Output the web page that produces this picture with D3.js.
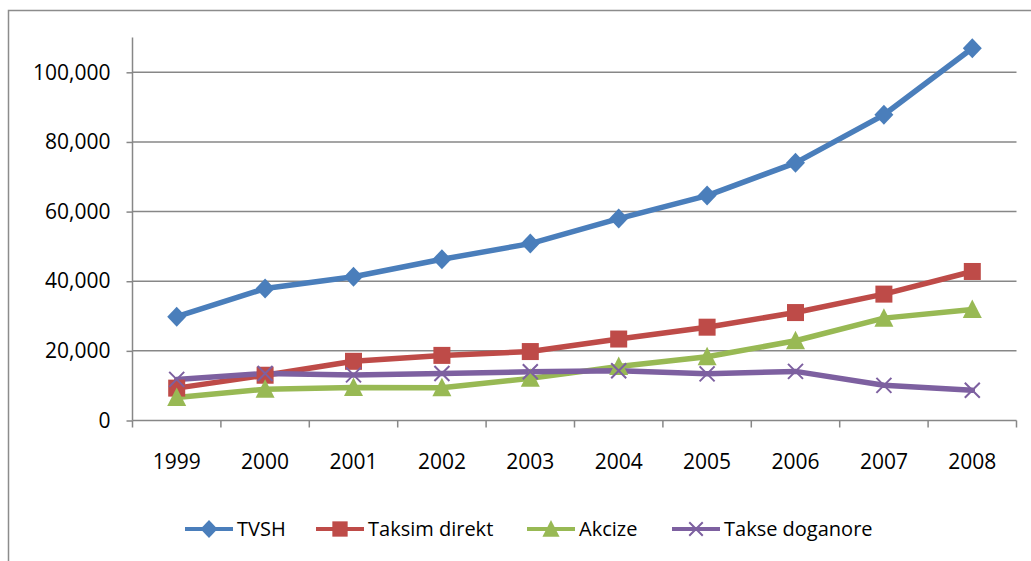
<!DOCTYPE html>
<html>
<head>
<meta charset="utf-8">
<script src="https://cdn.jsdelivr.net/npm/d3@7"></script>
<style>
  html, body { margin: 0; padding: 0; background: #fff; }
  svg { display: block; font-family: "Open Sans", sans-serif; }
</style>
</head>
<body>
<svg id="chart" width="1031" height="561"></svg>
<script>
const years = ["1999","2000","2001","2002","2003","2004","2005","2006","2007","2008"];
const tvsh = [29800, 37900, 41300, 46300, 50800, 58000, 64600, 74000, 87800, 106900];
const taksimDirekt = [9300, 13000, 17000, 18700, 19800, 23400, 26800, 31000, 36300, 42800];
const akcize = [6600, 9000, 9500, 9400, 12100, 15500, 18300, 22900, 29400, 31900];
const takseDoganore = [11800, 13500, 13100, 13500, 14000, 14300, 13400, 14100, 10100, 8700];
const seriesNames = ["TVSH", "Taksim direkt", "Akcize", "Takse doganore"];
const seriesColors = ["#4A7EBB", "#BE4B48", "#98B954", "#7D60A0"];
const seriesMarkers = ["diamond", "square", "triangle", "cross"];
const yTicks = [0, 20000, 40000, 60000, 80000, 100000];
const yMax = 110000;

const series = [tvsh, taksimDirekt, akcize, takseDoganore].map((vals, i) => ({
  name: seriesNames[i], color: seriesColors[i], marker: seriesMarkers[i],
  values: vals.map((v, j) => ({ year: years[j], value: v }))
}));

const svg = d3.select("#chart");
const mLeft = 132.5, mRight = 1016.5, mTop = 37.5, mBottom = 420.5;
const gridColor = "#878787";

// outer chart border
svg.append("rect").attr("x", 8.5).attr("y", 10.5).attr("width", 1100).attr("height", 700)
  .attr("fill", "none").attr("stroke", "#8c8c8c").attr("stroke-width", 1.5);

const x = d3.scaleBand().domain(years).range([mLeft, mRight]).padding(0);
const y = d3.scaleLinear().domain([0, yMax]).range([mBottom, mTop]);

// gridlines
svg.append("g").selectAll("line").data(yTicks.filter(t => t > 0)).join("line")
  .attr("x1", mLeft).attr("x2", mRight)
  .attr("y1", d => y(d)).attr("y2", d => y(d))
  .attr("stroke", gridColor).attr("stroke-width", 1.5);

// y axis
const yAxis = svg.append("g").attr("transform", `translate(${mLeft},0)`)
  .call(d3.axisLeft(y).tickValues(yTicks).tickSize(6).tickPadding(16).tickFormat(d3.format(",")));
yAxis.select(".domain").attr("stroke", gridColor).attr("stroke-width", 1.5).attr("d", `M0,${mTop}V${mBottom}`);
yAxis.selectAll(".tick line").attr("stroke", gridColor).attr("stroke-width", 1.5);
yAxis.selectAll("text").attr("font-size", 21).attr("fill", "#000").attr("font-family", "Open Sans");

// x axis
const xAxis = svg.append("g").attr("transform", `translate(0,${mBottom})`)
  .call(d3.axisBottom(x).tickSize(0).tickPadding(34));
xAxis.select(".domain").attr("stroke", gridColor).attr("stroke-width", 1.5).attr("d", `M${mLeft},0H${mRight}`);
xAxis.selectAll("text").attr("font-size", 21).attr("fill", "#000").attr("font-family", "Open Sans");
// boundary ticks
const bounds = years.map(yr => x(yr)).concat([x(years[years.length - 1]) + x.bandwidth()]);
svg.append("g").selectAll("line").data(bounds).join("line")
  .attr("x1", d => d).attr("x2", d => d).attr("y1", mBottom).attr("y2", mBottom + 7)
  .attr("stroke", gridColor).attr("stroke-width", 1.5);

const cx = d => x(d.year) + x.bandwidth() / 2;

function drawMarker(g, type, color, s) {
  if (type === "diamond") {
    g.append("path").attr("d", `M0,${-s}L${s * 0.95},0L0,${s}L${-s * 0.95},0Z`).attr("fill", color);
  } else if (type === "square") {
    g.append("rect").attr("x", -s * 0.85).attr("y", -s * 0.85).attr("width", s * 1.7).attr("height", s * 1.7).attr("fill", color);
  } else if (type === "triangle") {
    g.append("path").attr("d", `M0,${-s}L${s * 0.95},${s * 0.85}L${-s * 0.95},${s * 0.85}Z`).attr("fill", color);
  } else {
    const c = s * 0.75;
    g.append("path").attr("d", `M${-c},${-c}L${c},${c}M${-c},${c}L${c},${-c}`)
      .attr("stroke", color).attr("stroke-width", 2).attr("fill", "none");
  }
}

const line = d3.line().x(cx).y(d => y(d.value));
series.forEach(s => {
  svg.append("path").datum(s.values).attr("d", line)
    .attr("fill", "none").attr("stroke", s.color).attr("stroke-width", 5.5)
    .attr("stroke-linejoin", "round").attr("stroke-linecap", "round");
});
series.forEach(s => {
  s.values.forEach(d => {
    const g = svg.append("g").attr("transform", `translate(${cx(d)},${y(d.value)})`);
    drawMarker(g, s.marker, s.color, 10);
  });
});

// legend
const legendX = [185, 316, 527, 672];
const legendY = 529;
series.forEach((s, i) => {
  const g = svg.append("g").attr("transform", `translate(${legendX[i]},${legendY})`);
  g.append("line").attr("x1", 0).attr("x2", 48).attr("y1", 0).attr("y2", 0)
    .attr("stroke", s.color).attr("stroke-width", 4);
  const m = g.append("g").attr("transform", "translate(24,0)");
  drawMarker(m, s.marker, s.color, 9);
  g.append("text").attr("x", 52).attr("y", 0).attr("dy", "0.35em")
    .attr("font-size", 20).attr("fill", "#000").text(s.name);
});
</script>
</body>
</html>
